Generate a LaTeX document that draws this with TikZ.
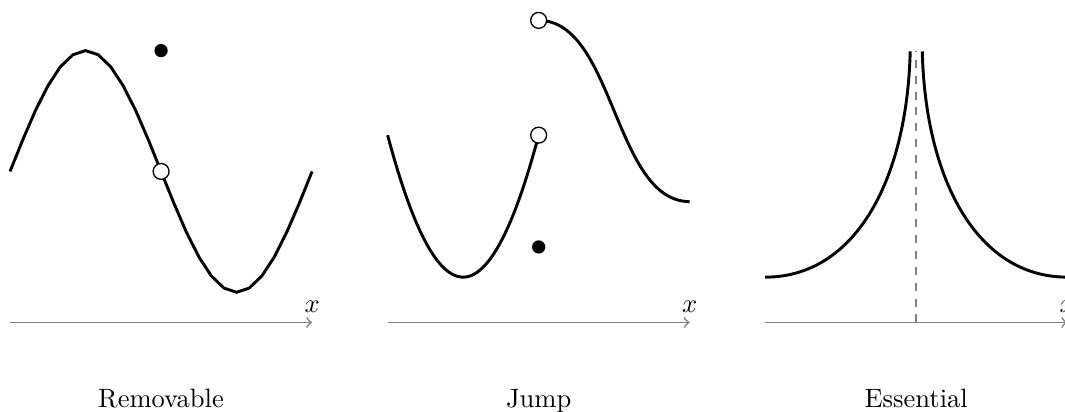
\documentclass[tikz,border=0pt]{standalone}
\usetikzlibrary{calc}
\tikzset{
  axisline/.style={gray, line width=0.6pt, ->},
  axislabel/.style={above, text=black},
  curve/.style={black, line width=1.1pt},
  opendot/.style={circle, draw=black, fill=white, line width=0.5pt, minimum size=6pt, inner sep=0pt},
  fulldot/.style={circle, fill=black, minimum size=5pt, inner sep=0pt},
  caption/.style={anchor=base},
  asymline/.style={gray, line width=0.6pt, dashed}
}
\begin{document}
\begin{tikzpicture}
\useasboundingbox (-0.133,-1.18) rectangle (13.97,4.27);
\clip (-0.133,-1.18) rectangle (13.97,4.27);

% ---------- Removable ----------
\coordinate (a1s) at (0,0);
\coordinate (a1e) at (4,0);
\draw[axisline] (a1s) -- (a1e) node[axislabel] (x1) {$x$};
\draw[curve, domain=0:4, samples=25] plot (\x,{2+1.6*sin(90*\x)});
\node[opendot] (r1) at (2,2) {};
\node[fulldot] (r2) at (2,3.6) {};
\node[caption] (c1) at (2,-1.13) {Removable};

% ---------- Jump ----------
\begin{scope}[xshift=5cm]
\coordinate (a2s) at (0,0);
\coordinate (a2e) at (4,0);
\draw[axisline] (a2s) -- (a2e) node[axislabel] (x2) {$x$};
\draw[curve, domain=0:2, samples=60, smooth] plot (\x,{0.6+1.88*(\x-1)*(\x-1)});
\coordinate (u0) at (2,4);
\coordinate (u1) at (4,1.6);
\draw[curve] (u0) .. controls (3,4) and (3,1.6) .. (u1);
\node[opendot] (j1) at (2,2.48) {};
\node[fulldot] (j2) at (2,1) {};
\node[opendot] (j3) at (u0) {};
\node[caption] (c2) at (2,-1.13) {Jump};
\end{scope}

% ---------- Essential ----------
\begin{scope}[xshift=10cm]
\coordinate (a3s) at (0,0);
\coordinate (a3e) at (4,0);
\draw[axisline] (a3s) -- (a3e) node[axislabel] (x3) {$x$};
\coordinate (v0) at (2,0);
\coordinate (v1) at (2,3.59);
\draw[asymline] (v0) -- (v1);
\coordinate (l0) at (0,0.6);
\coordinate (l1) at (1.92,3.59);
\coordinate (q0) at (4,0.6);
\coordinate (q1) at (2.08,3.59);
\draw[curve] (l0) .. controls (1.2,0.6) and (1.88,1.9) .. (l1);
\draw[curve] (q0) .. controls (2.8,0.6) and (2.12,1.9) .. (q1);
\node[caption] (c3) at (2,-1.13) {Essential};
\end{scope}
\end{tikzpicture}
\end{document}
